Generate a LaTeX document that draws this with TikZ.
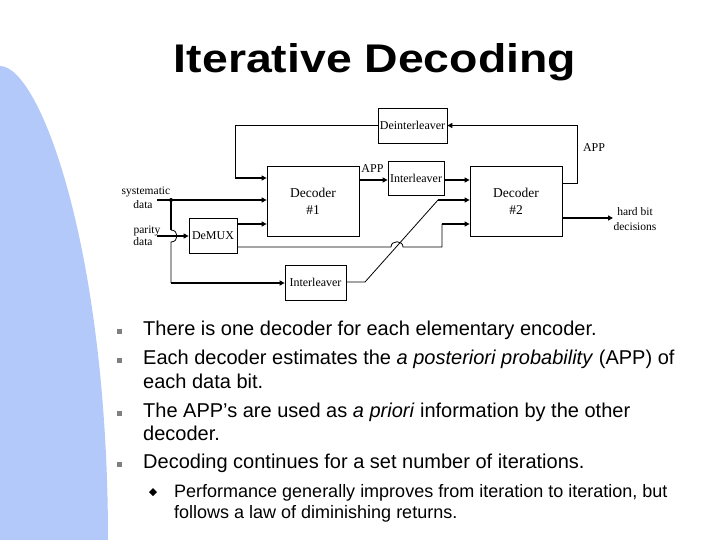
\documentclass[tikz,border=0pt]{standalone}
\usepackage{graphicx}
\usepackage{fontspec}
\setmainfont{Liberation Serif}
\newfontfamily\arial{Liberation Sans}
\usetikzlibrary{arrows.meta}
\definecolor{slideblue}{RGB}{178,201,250}
\definecolor{bulletgray}{RGB}{128,128,128}
\begin{document}
\begin{tikzpicture}[x=1pt,y=-1pt,
  box/.style={draw,line width=0.8pt,inner sep=0pt},
  decbox/.style={box,minimum width=92pt,minimum height=70pt,align=center,
    font=\fontsize{13.5}{17}\selectfont},
  smallbox/.style={box,font=\fontsize{12}{14}\selectfont},
  lbl/.style={inner sep=0pt,font=\fontsize{11.5}{13}\selectfont},
  thinline/.style={line width=0.8pt},
  thickline/.style={line width=1.5pt},
  tarr/.style={line width=1.5pt,-{Triangle[length=5pt,width=5pt]}},
  sq/.style={fill=bulletgray,minimum size=5pt,inner sep=0pt},
  btxt/.style={anchor=base west,inner sep=0pt,font=\arial\fontsize{20}{24}\selectfont},
  stxt/.style={anchor=base west,inner sep=0pt,font=\arial\fontsize{18}{21}\selectfont}]
\useasboundingbox (0,0) rectangle (720,540);
% background shape
\fill[slideblue] (0,540) -- (0,66) .. controls (40,66) and (108,250) .. (108,540) -- cycle;
% title
\node[anchor=base,inner sep=0pt] (title) at (375,73)
  {\arial\bfseries\fontsize{40}{48}\selectfont\scalebox{1.16}[1]{Iterative Decoding}};
% boxes
\node[smallbox,minimum width=69pt,minimum height=35pt] (deint) at (412.5,125.5) {Deinterleaver};
\node[smallbox,minimum width=56pt,minimum height=34pt] (intA) at (416,178) {Interleaver};
\node[decbox] (decA) at (313,201) {Decoder\\\#1};
\node[decbox] (decB) at (516,201) {Decoder\\\#2};
\node[smallbox,minimum width=48pt,minimum height=35pt] (demux) at (213,235.5) {DeMUX};
\node[smallbox,minimum width=61pt,minimum height=35pt] (intB) at (315.5,282.5) {Interleaver};
% helper coordinates
\coordinate (sysin) at (157,200);
\coordinate (parin) at (157,236);
\coordinate (junc) at (171,200);
\coordinate (hopA1) at (171,230);
\coordinate (hopA2) at (171,242);
\coordinate (botL) at (171,283);
\coordinate (fbL1) at (235,125.5);
\coordinate (fbL2) at (235,178);
\coordinate (fbR1) at (577,183);
\coordinate (fbR2) at (577,125.5);
\coordinate (hardout) at (613,218);
\coordinate (yA) at (0,180);
\coordinate (yB) at (0,224);
\coordinate (yC) at (0,247);
\coordinate (hopB1) at (391,247);
\coordinate (hopB2) at (403,247);
\coordinate (dmxR1) at (442,247);
\coordinate (dmxR2) at (442,224);
\coordinate (diag0) at (0,282);
\coordinate (diag1) at (365,282);
\coordinate (diag2) at (438,200);
% connectors
\draw[tarr] (sysin) -- (decA.west |- sysin);
\draw[tarr] (parin) -- (demux.west |- parin);
\draw[thickline] (junc) -- (hopA1);
\draw[thinline] (hopA1) .. controls (179,230) and (179,242) .. (hopA2) -- (botL);
\draw[tarr] (botL) -- (intB.west |- botL);
\fill (junc) circle (2pt);
\draw[thinline] (deint.west) -- (fbL1) -- (fbL2);
\draw[tarr] (fbL2) -- (decA.west |- fbL2);
\draw[tarr] (decA.east |- yA) -- (intA.west |- yA);
\draw[tarr] (intA.east |- yA) -- (decB.west |- yA);
\draw[tarr] (demux.east |- yB) -- (decA.west |- yB);
\draw[thinline] (demux.east |- yC) -- (hopB1) .. controls (391,240) and (403,240) .. (hopB2) -- (dmxR1) -- (dmxR2);
\draw[tarr] (dmxR2) -- (decB.west |- dmxR2);
\draw[thinline] (intB.east |- diag0) -- (diag1) -- (diag2);
\draw[tarr] (diag2) -- (decB.west |- diag2);
\draw[thinline] (decB.east |- fbR1) -- (fbR1) -- (fbR2);
\draw[tarr] (fbR2) -- (deint.east |- fbR2);
\draw[tarr] (decB.east |- hardout) -- (hardout);
% labels
\node[lbl] (lsys) at (146,192) {systematic};
\node[lbl] (lsysd) at (143,205) {data};
\node[lbl] (lpar) at (147,231) {parity};
\node[lbl] (lpard) at (143,242) {data};
\node[lbl,font=\fontsize{12}{14}\selectfont] (appA) at (372.5,169) {APP};
\node[lbl,font=\fontsize{12}{14}\selectfont] (appB) at (594,148) {APP};
\node[lbl] (hardA) at (635,212) {hard bit};
\node[lbl] (hardB) at (635,227) {decisions};
% bullets
\node[sq] (b1) at (119,331) {};
\node[sq] (b2) at (119,360) {};
\node[sq] (b3) at (119,413) {};
\node[sq] (b4) at (119,464) {};
\fill (153,488) -- (157,492) -- (153,496) -- (149,492) -- cycle;
\node[btxt] (t1) at (143,335) {There is one decoder for each elementary encoder.};
\node[btxt] (t2) at (143,364) {Each decoder estimates the \textit{a posteriori probability} (APP) of};
\node[btxt] (t3) at (143,388) {each data bit.};
\node[btxt] (t4) at (143,417) {The APP’s are used as \textit{a priori} information by the other};
\node[btxt] (t5) at (143,440) {decoder.};
\node[btxt] (t6) at (143,468) {Decoding continues for a set number of iterations.};
\node[stxt] (s1) at (174,497) {Performance generally improves from iteration to iteration, but};
\node[stxt] (s2) at (174,518) {follows a law of diminishing returns.};
\end{tikzpicture}
\end{document}
